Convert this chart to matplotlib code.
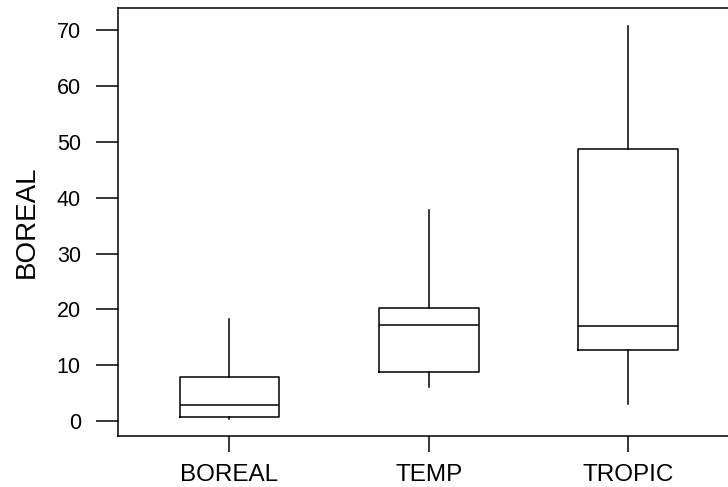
import matplotlib
matplotlib.use("Agg")
from matplotlib import pyplot as plt

plt.rcParams['font.family'] = ['Liberation Sans', 'DejaVu Sans']

categories = ['BOREAL', 'TEMP', 'TROPIC']
whisker_low = [0.3, 6.1, 3.0]
q1 = [0.7, 8.8, 12.7]
medians = [2.9, 17.2, 17.0]
q3 = [7.9, 20.3, 48.7]
whisker_high = [18.2, 37.8, 70.8]

stats = []
for i, name in enumerate(categories):
    stats.append({
        'label': name,
        'whislo': whisker_low[i],
        'q1': q1[i],
        'med': medians[i],
        'q3': q3[i],
        'whishi': whisker_high[i],
        'fliers': [],
    })

fig = plt.figure(figsize=(7.28, 4.87), dpi=100)
ax = fig.add_axes([118 / 728, 51 / 487, 1 - 118 / 728, (436 - 8.3) / 487])

line = dict(color='black', linewidth=1.1)
ax.bxp(
    stats,
    positions=[1, 2, 3],
    widths=0.5,
    showcaps=False,
    showfliers=False,
    boxprops=line,
    whiskerprops=line,
    medianprops=line,
)

ax.set_xlim(0.441, 3.5)
ax.set_ylim(-2.69, 73.96)
ax.set_yticks([0, 10, 20, 30, 40, 50, 60, 70])

ax.spines['right'].set_visible(False)
for s in ['left', 'top', 'bottom']:
    ax.spines[s].set_linewidth(1.1)

ax.tick_params(axis='y', length=15.8, width=1.1, pad=11, labelsize=15.5)
ax.tick_params(axis='x', length=11.5, width=1.1, pad=9, labelsize=17.5)
ax.set_ylabel('BOREAL', fontsize=20, labelpad=12)

fig.savefig('out.png', dpi=100)
